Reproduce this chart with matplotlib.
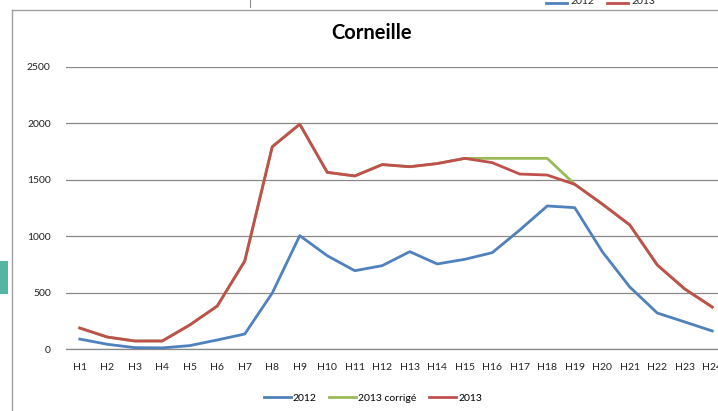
import matplotlib
matplotlib.use("Agg")
import matplotlib.pyplot as plt
from matplotlib.lines import Line2D
from matplotlib.patches import Rectangle

plt.rcParams['font.family'] = ['Lato', 'DejaVu Sans']

hours = [f"H{i}" for i in range(1, 25)]
y2012 = [88, 42, 12, 10, 30, 80, 133, 496, 1005, 827, 694, 739, 863, 754, 795, 854,
         1055, 1268, 1253, 863, 550, 319, 240, 160]
y2013 = [186, 106, 71, 71, 213, 381, 780, 1793, 1993, 1566, 1534, 1635, 1616, 1644,
         1690, 1652, 1551, 1542, 1460, 1285, 1100, 745, 532, 372]
y2013c = [186, 106, 71, 71, 213, 381, 780, 1793, 1993, 1566, 1534, 1635, 1616, 1644,
          1690, 1690, 1690, 1690, 1460, 1285, 1100, 745, 532, 372]
yticks = [0, 500, 1000, 1500, 2000, 2500]

W, H = 718, 411
fig = plt.figure(figsize=(W / 100, H / 100), dpi=100)

# axes: x from 66 to 726 px, y from 67 to 349 px
ax = fig.add_axes([66 / W, 1 - 349 / H, 660 / W, 282 / H])
x = list(range(len(hours)))
ax.plot(x, y2012, color='#4F81BD', lw=2.0, solid_joinstyle='round', label='2012', zorder=3)
ax.plot(x, y2013c, color='#9BBB59', lw=2.0, solid_joinstyle='round', label='2013 corrigé', zorder=3)
ax.plot(x, y2013, color='#C0504D', lw=2.0, solid_joinstyle='round', label='2013', zorder=4)

ax.set_xlim(-0.5, 23.5)
ax.set_ylim(0, 2500)
ax.set_xticks(x)
ax.set_xticklabels(hours)
ax.set_yticks(yticks)
ax.set_yticklabels([str(v) for v in yticks])
ax.tick_params(axis='both', length=0, labelsize=7.5, colors='#222222')
ax.tick_params(axis='x', pad=10)
ax.tick_params(axis='y', pad=11)
for s in ['top', 'right', 'left']:
    ax.spines[s].set_visible(False)
ax.spines['bottom'].set_color('#888888')
ax.spines['bottom'].set_linewidth(0.9)
ax.grid(axis='y', color='#888888', lw=0.9)
ax.set_axisbelow(True)

fig.text(372 / W, 1 - 33 / H, 'Corneille', ha='center', va='center',
         fontsize=14.5, fontweight='bold', color='black')

handles, labels = ax.get_legend_handles_labels()
fig.legend(handles, labels, loc='center', bbox_to_anchor=(373 / W, 1 - 398 / H),
           ncol=3, frameon=False, fontsize=7.5, handlelength=2.6,
           handletextpad=0.2, columnspacing=1.2)

# chart frame (screenshot artefacts)
fig.add_artist(Line2D([12 / W, 1], [1 - 10 / H, 1 - 10 / H], color='#a0a0a0', lw=1.0))
fig.add_artist(Line2D([12 / W, 12 / W], [0, 1 - 10 / H], color='#a0a0a0', lw=1.0))
fig.add_artist(Line2D([250 / W, 250 / W], [1 - 7 / H, 1], color='#909090', lw=0.8))
fig.add_artist(Rectangle((0, 1 - 294 / H), 8 / W, 33 / H, color='#55B5A2', lw=0))

# cut-off top legend
fig.add_artist(Line2D([546 / W, 567 / W], [1 - 3 / H, 1 - 3 / H], color='#4F81BD', lw=2.0))
fig.text(570 / W, 1 - 1 / H, '2012', ha='left', va='center', fontsize=7.5, color='#222222')
fig.add_artist(Line2D([607 / W, 628 / W], [1 - 3 / H, 1 - 3 / H], color='#C0504D', lw=2.0))
fig.text(631 / W, 1 - 1 / H, '2013', ha='left', va='center', fontsize=7.5, color='#222222')

fig.savefig('out.png', dpi=100)
